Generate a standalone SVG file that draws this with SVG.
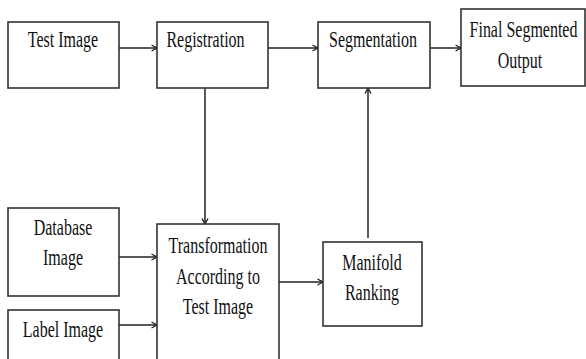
<svg xmlns="http://www.w3.org/2000/svg" width="586" height="359" viewBox="0 0 586 359" font-family="'Liberation Serif', 'DejaVu Serif', serif">
<defs>
<style>
.box{fill:#fff;stroke:#333;stroke-width:1.6}
.ln{fill:none;stroke:#222;stroke-width:1.5}
text{font-size:16px;fill:#111;text-anchor:middle}
</style>
<marker id="ah" viewBox="0 0 8 8" refX="7.5" refY="4" markerWidth="8" markerHeight="8" markerUnits="userSpaceOnUse" orient="auto">
<path d="M2,1 L7.5,4 L2,7" fill="none" stroke="#222" stroke-width="1.4"/>
</marker>
</defs>
<rect width="586" height="359" fill="#fff"/>
<g id="connectors">
<line class="ln" x1="119" y1="48" x2="157" y2="48" marker-end="url(#ah)"/>
<line class="ln" x1="268" y1="48" x2="318" y2="48" marker-end="url(#ah)"/>
<line class="ln" x1="430" y1="48" x2="461" y2="48" marker-end="url(#ah)"/>
<line class="ln" x1="205" y1="88" x2="205" y2="224" marker-end="url(#ah)"/>
<line class="ln" x1="119" y1="257" x2="157" y2="257" marker-end="url(#ah)"/>
<line class="ln" x1="119" y1="325" x2="157" y2="325" marker-end="url(#ah)"/>
<line class="ln" x1="279" y1="282" x2="323" y2="282" marker-end="url(#ah)"/>
<line class="ln" x1="368" y1="238" x2="368" y2="88" marker-end="url(#ah)"/>
</g>
<g id="test-image">
<rect class="box" x="8" y="22" width="111" height="66"/>
<text transform="translate(63,47) scale(1,1.4)">Test Image</text>
</g>
<g id="registration">
<rect class="box" x="157" y="22" width="111" height="66"/>
<text transform="translate(205.5,47) scale(1,1.4)">Registration</text>
</g>
<g id="segmentation">
<rect class="box" x="318" y="22" width="112" height="66"/>
<text transform="translate(373,47) scale(1,1.4)">Segmentation</text>
</g>
<g id="final-output">
<rect class="box" x="461" y="9" width="124" height="77"/>
<text transform="translate(523.5,37) scale(1,1.4)">Final Segmented</text>
<text transform="translate(520,68) scale(1,1.4)">Output</text>
</g>
<g id="database-image">
<rect class="box" x="8" y="208" width="111" height="88"/>
<text transform="translate(63,235) scale(1,1.4)">Database</text>
<text transform="translate(63,265) scale(1,1.4)">Image</text>
</g>
<g id="label-image">
<rect class="box" x="8" y="310" width="111" height="60"/>
<text transform="translate(63,337) scale(1,1.4)">Label Image</text>
</g>
<g id="transformation">
<rect class="box" x="157" y="224" width="122" height="150"/>
<text transform="translate(218,253) scale(1,1.4)">Transformation</text>
<text transform="translate(218,284) scale(1,1.4)">According to</text>
<text transform="translate(218,314) scale(1,1.4)">Test Image</text>
</g>
<g id="manifold-ranking">
<rect class="box" x="323" y="242" width="99" height="84"/>
<text transform="translate(372,270) scale(1,1.4)">Manifold</text>
<text transform="translate(372,300) scale(1,1.4)">Ranking</text>
</g>
</svg>
